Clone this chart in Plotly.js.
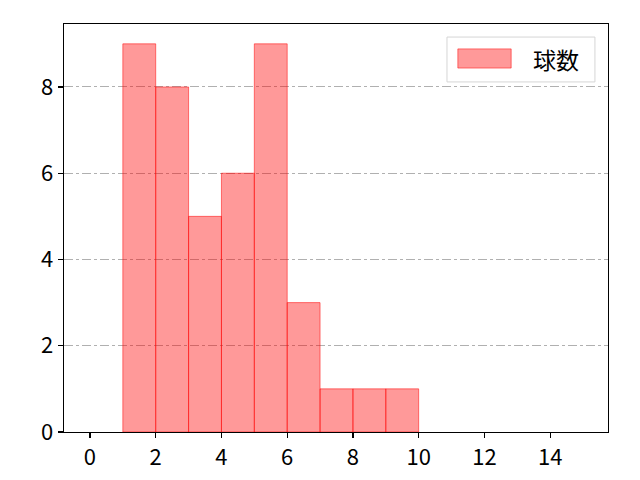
<!DOCTYPE html>
<html>
<head>
<meta charset="utf-8">
<script src="https://cdn.plot.ly/plotly-3.0.1.min.js"></script>
<style>html,body{margin:0;padding:0;background:#fff;}#chart{width:640px;height:480px;}</style>
</head>
<body>
<div id="chart"></div>
<script>
const binStarts = [1, 2, 3, 4, 5, 6, 7, 8, 9];
const counts = [9, 8, 5, 6, 9, 3, 1, 1, 1];
const seriesName = "球数";
const xTicks = [0, 2, 4, 6, 8, 10, 12, 14];
const yTicks = [0, 2, 4, 6, 8];

const font = "'Noto Sans CJK JP', 'Noto Sans', sans-serif";
const fill = 'rgba(255,0,0,0.4)';
const edge = 'rgba(255,0,0,0.5)';

const trace = {
  type: 'bar',
  x: binStarts,
  y: counts,
  width: 1,
  offset: 0,
  name: seriesName,
  marker: {color: fill, line: {color: edge, width: 1}},
  showlegend: false
};

const layout = {
  width: 640, height: 480,
  margin: {l: 64, r: 32, t: 24, b: 48},
  paper_bgcolor: '#fff', plot_bgcolor: '#fff',
  font: {family: font, size: 22, color: '#000'},
  bargap: 0,
  xaxis: {
    range: [-0.79, 15.76],
    tickvals: xTicks,
    ticks: 'outside', ticklen: 5, tickwidth: 1.2, tickcolor: '#000',
    showline: true, linecolor: '#000', linewidth: 1.3, mirror: true,
    showgrid: false, zeroline: false,
    tickfont: {family: font, size: 22}
  },
  yaxis: {
    range: [0, 9.46],
    tickvals: yTicks,
    ticks: 'outside', ticklen: 5, tickwidth: 1.2, tickcolor: '#000',
    showline: true, linecolor: '#000', linewidth: 1.3, mirror: true,
    showgrid: true, gridcolor: '#b0b0b0', gridwidth: 1, griddash: 'dashdot',
    zeroline: false,
    tickfont: {family: font, size: 22}
  },
  showlegend: false,
  shapes: [
    {type: 'rect', xref: 'paper', yref: 'paper', x0: 0.704, x1: 0.976, y0: 0.858, y1: 0.968,
     line: {color: '#d5d5d5', width: 1}, fillcolor: 'rgba(255,255,255,0.8)', layer: 'above'},
    {type: 'rect', xref: 'paper', yref: 'paper', x0: 0.724, x1: 0.822, y0: 0.892, y1: 0.939,
     line: {color: edge, width: 1}, fillcolor: fill, layer: 'above'}
  ],
  annotations: [
    {xref: 'paper', yref: 'paper', x: 0.858, y: 0.915, xanchor: 'left', yanchor: 'middle',
     text: seriesName, showarrow: false, font: {family: font, size: 23, color: '#000'}}
  ]
};

Plotly.newPlot('chart', [trace], layout, {displayModeBar: false, staticPlot: true});
</script>
</body>
</html>
